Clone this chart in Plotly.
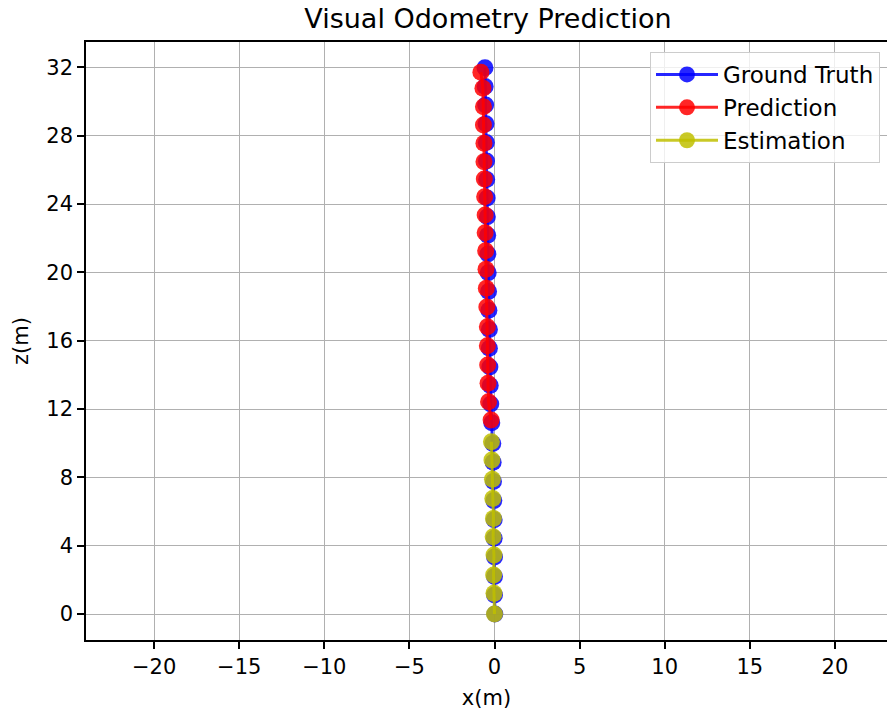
import plotly.graph_objects as go

# Ground-truth trajectory (x, z in metres)
gt_x = [0.02, 0.0, 0.0, 0.0, -0.02, -0.02, -0.04, -0.06, -0.08, -0.1,
        -0.16, -0.22, -0.25, -0.27, -0.3, -0.3, -0.33, -0.35, -0.37, -0.39,
        -0.4, -0.42, -0.43, -0.46, -0.47, -0.48, -0.5, -0.52, -0.55, -0.56]
gt_z = [0.0, 1.12, 2.2, 3.34, 4.44, 5.52, 6.64, 7.76, 8.88, 9.98,
        11.2, 12.3, 13.38, 14.46, 15.56, 16.66, 17.78, 18.88, 19.98, 21.08,
        22.18, 23.26, 24.36, 25.44, 26.52, 27.6, 28.7, 29.8, 30.88, 31.98]

# Network prediction after the estimation window
pred_x = [-0.2, -0.35, -0.38, -0.4, -0.42, -0.42, -0.45, -0.48, -0.5, -0.52,
          -0.55, -0.55, -0.58, -0.6, -0.62, -0.62, -0.65, -0.65, -0.68, -0.8]
pred_z = [11.36, 12.43, 13.51, 14.58, 15.71, 16.82, 17.97, 19.07, 20.18, 21.27,
          22.32, 23.36, 24.43, 25.47, 26.48, 27.56, 28.63, 29.70, 30.78, 31.72]

# Odometry estimation over the first segment
est_x = [0.0, -0.03, -0.05, -0.03, -0.08, -0.06, -0.1, -0.12, -0.15, -0.18]
est_z = [0.0, 1.21, 2.28, 3.45, 4.53, 5.60, 6.77, 7.89, 9.02, 10.09]

x_ticks = [-20, -15, -10, -5, 0, 5, 10, 15, 20]
y_ticks = [0, 4, 8, 12, 16, 20, 24, 28, 32]

FONT = "DejaVu Sans"

series = [
    ("Ground Truth", gt_x, gt_z, "0,0,255"),
    ("Prediction", pred_x, pred_z, "255,0,0"),
    ("Estimation", est_x, est_z, "191,191,0"),
]

fig = go.Figure()
for name, xs, zs, rgb in series:
    fig.add_trace(go.Scatter(
        x=xs, y=zs, name=name, mode="lines+markers",
        legendgroup=name,
        line=dict(color=f"rgba({rgb},0.85)", width=3),
        marker=dict(color=f"rgb({rgb})", size=17, opacity=0.85,
                    line=dict(width=0)),
    ))

axis_common = dict(
    showgrid=True, gridcolor="#b0b0b0", gridwidth=1.3,
    zeroline=False, showline=True, linecolor="black", linewidth=1.5,
    ticks="outside", ticklen=7, tickwidth=1.5, tickcolor="black",
    tickfont=dict(family=FONT, size=21, color="black"),
    title_font=dict(family=FONT, size=21, color="black"),
)

plot_top, plot_bottom = 42, 640

fig.update_layout(
    width=887, height=711,
    margin=dict(l=86, r=0, t=plot_top, b=711 - plot_bottom, autoexpand=False),
    paper_bgcolor="white", plot_bgcolor="white",
    font=dict(family=FONT, color="black"),
    title=dict(text="Visual Odometry Prediction", x=488 / 887, xanchor="center",
               y=1 - 19 / 711, yanchor="middle", yref="container",
               font=dict(family=FONT, size=27, color="black")),
    xaxis=dict(range=[-24, 23.06], tickvals=x_ticks,
               ticktext=[f"\u2212{abs(v)}" if v < 0 else str(v) for v in x_ticks],
               mirror=True, title=dict(text="x(m)", standoff=12), **axis_common),
    yaxis=dict(range=[-1.52, 33.49], tickvals=y_ticks, mirror=False,
               title=dict(text="z(m)", standoff=12), **axis_common),
    legend=dict(x=(880 - 86) / 801, xanchor="right", xref="paper",
                y=1 - (52 - plot_top) / (plot_bottom - plot_top), yanchor="top",
                yref="paper",
                bgcolor="rgba(255,255,255,0.8)", bordercolor="#cccccc",
                borderwidth=1, font=dict(family=FONT, size=23, color="black"),
                itemwidth=62, tracegroupgap=0, traceorder="grouped"),
    showlegend=True,
)

fig.write_html("out.html")
